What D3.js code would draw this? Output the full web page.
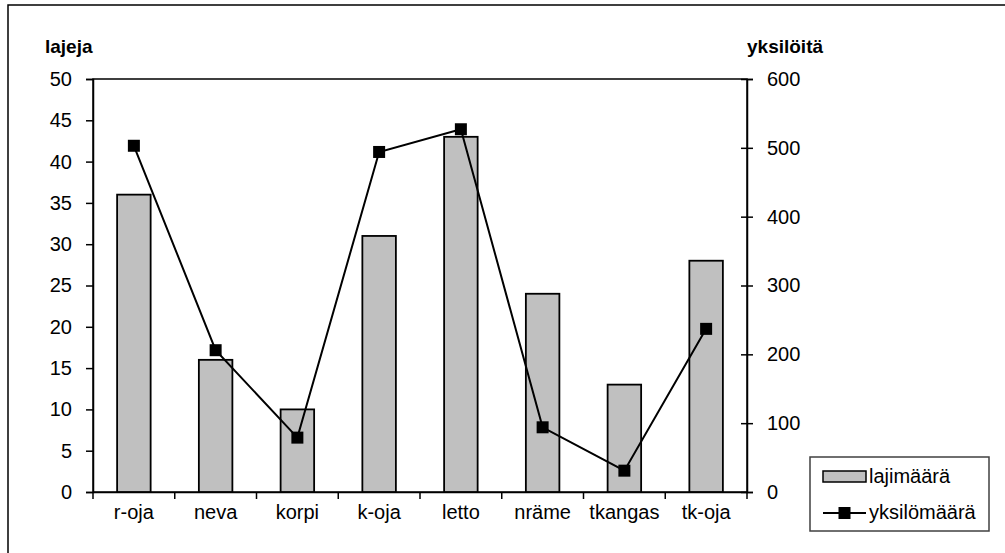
<!DOCTYPE html>
<html lang="fi">
<head>
    <meta charset="UTF-8">
    <title>lajimäärä ja yksilömäärä</title>
    <style>
        body { margin: 0; background: #fff; }
        svg { display: block; }
        text { font-family: "Liberation Sans", Arial, sans-serif; fill: #000; }
    </style>
    <script src="https://d3js.org/d3.v7.min.js"></script>
</head>
<body>
    <svg width="1005" height="553"></svg>
    <script>
        // data
        const categories = ["r-oja", "neva", "korpi", "k-oja", "letto", "nräme", "tkangas", "tk-oja"];
        const lajimaara = [36, 16, 10, 31, 43, 24, 13, 28];
        const yksilomaara = [503, 206, 79, 494, 527, 94, 31, 237];
        const leftTicks = [0, 5, 10, 15, 20, 25, 30, 35, 40, 45, 50];
        const rightTicks = [0, 100, 200, 300, 400, 500, 600];

        const svg = d3.select("svg");
        const plot = { left: 93, right: 747, top: 79, bottom: 492 };
        const fs = 20;

        // outer chart border (only top and left visible)
        svg.append("rect")
            .attr("x", 8).attr("y", 5)
            .attr("width", 1100).attr("height", 700)
            .attr("fill", "none").attr("stroke", "#000").attr("stroke-width", 1.5);

        const x = d3.scaleBand().domain(categories).range([plot.left, plot.right]);
        const yL = d3.scaleLinear().domain([0, 50]).range([plot.bottom, plot.top]);
        const yR = d3.scaleLinear().domain([0, 600]).range([plot.bottom, plot.top]);

        // plot area frame
        svg.append("rect")
            .attr("x", plot.left).attr("y", plot.top)
            .attr("width", plot.right - plot.left).attr("height", plot.bottom - plot.top)
            .attr("fill", "none").attr("stroke", "#000").attr("stroke-width", 1.5);

        // left axis
        const gL = svg.append("g").attr("transform", `translate(${plot.left},0)`)
            .call(d3.axisLeft(yL).tickValues(leftTicks).tickSize(7).tickPadding(14));
        // right axis (ticks cross the line)
        const gR = svg.append("g").attr("transform", `translate(${plot.right},0)`)
            .call(d3.axisRight(yR).tickValues(rightTicks).tickSize(6).tickPadding(14));
        gR.selectAll(".tick line").attr("x1", -6);
        // bottom axis
        const gB = svg.append("g").attr("transform", `translate(0,${plot.bottom})`)
            .call(d3.axisBottom(x).tickValues([]).tickSizeOuter(0));
        gB.selectAll(".cat-tick")
            .data(d3.range(categories.length + 1))
            .enter().append("line")
            .attr("class", "cat-tick")
            .attr("x1", i => plot.left + i * x.step()).attr("x2", i => plot.left + i * x.step())
            .attr("y1", 0).attr("y2", 7).attr("stroke", "#000").attr("stroke-width", 1.5);
        gB.selectAll(".cat-label")
            .data(categories)
            .enter().append("text")
            .attr("class", "cat-label")
            .attr("x", d => x(d) + x.bandwidth() / 2)
            .attr("y", 27)
            .attr("text-anchor", "middle")
            .style("font-size", fs + "px")
            .text(d => d);

        [gL, gR, gB].forEach(g => {
            g.select(".domain").attr("stroke", "#000").attr("stroke-width", 1.5);
            g.selectAll(".tick line").attr("stroke", "#000").attr("stroke-width", 1.5);
            g.selectAll(".tick text").style("font-size", fs + "px").attr("fill", "#000")
                .attr("font-family", "Liberation Sans, Arial, sans-serif");
        });

        // bars
        const bw = x.bandwidth() * 0.41;
        svg.selectAll("rect.bar")
            .data(lajimaara)
            .enter().append("rect")
            .attr("class", "bar")
            .attr("x", (d, i) => x(categories[i]) + (x.bandwidth() - bw) / 2)
            .attr("y", d => yL(d))
            .attr("width", bw)
            .attr("height", d => yL(0) - yL(d))
            .attr("fill", "#c0c0c0").attr("stroke", "#000").attr("stroke-width", 1.8);

        // line series
        const line = d3.line()
            .x((d, i) => x(categories[i]) + x.bandwidth() / 2)
            .y(d => yR(d));
        svg.append("path")
            .datum(yksilomaara)
            .attr("d", line)
            .attr("fill", "none").attr("stroke", "#000").attr("stroke-width", 2);
        const ms = 12;
        svg.selectAll("rect.marker")
            .data(yksilomaara)
            .enter().append("rect")
            .attr("class", "marker")
            .attr("x", (d, i) => x(categories[i]) + x.bandwidth() / 2 - ms / 2)
            .attr("y", d => yR(d) - ms / 2)
            .attr("width", ms).attr("height", ms)
            .attr("fill", "#000");

        // axis titles
        svg.append("text").attr("x", 45).attr("y", 53)
            .style("font-size", "19px").style("font-weight", "bold").text("lajeja");
        svg.append("text").attr("x", 747).attr("y", 53)
            .style("font-size", "19px").style("font-weight", "bold").text("yksilöitä");

        // legend
        const lg = svg.append("g").attr("transform", "translate(810,457)");
        lg.append("rect").attr("width", 179).attr("height", 74)
            .attr("fill", "#fff").attr("stroke", "#404040").attr("stroke-width", 1.5);
        lg.append("rect").attr("x", 13).attr("y", 14).attr("width", 43).attr("height", 11)
            .attr("fill", "#c0c0c0").attr("stroke", "#000").attr("stroke-width", 1.5);
        lg.append("text").attr("x", 59).attr("y", 26).style("font-size", fs + "px").text("lajimäärä");
        lg.append("line").attr("x1", 13).attr("x2", 56).attr("y1", 56).attr("y2", 56)
            .attr("stroke", "#000").attr("stroke-width", 2);
        lg.append("rect").attr("x", 34.5 - 6).attr("y", 50).attr("width", 12).attr("height", 12).attr("fill", "#000");
        lg.append("text").attr("x", 59).attr("y", 62).style("font-size", fs + "px").text("yksilömäärä");
    </script>
</body>
</html>
